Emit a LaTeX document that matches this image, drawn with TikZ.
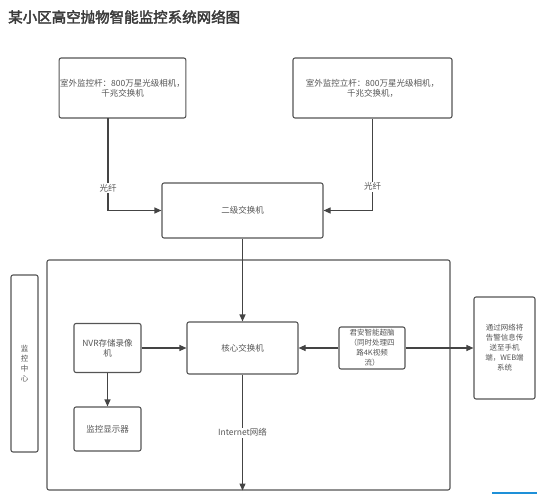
\documentclass[tikz,border=0pt]{standalone}
\usepackage{fontspec}
\setmainfont{Noto Sans CJK SC}
\newfontfamily\titlefont[FakeBold=2.5]{Noto Sans CJK SC}
\usetikzlibrary{arrows.meta}
\definecolor{boxline}{HTML}{555555}
\definecolor{wire}{HTML}{444444}
\definecolor{txt}{HTML}{555555}
\definecolor{ttl}{HTML}{3A3A3A}
\definecolor{barblue}{HTML}{1E90D8}
\tikzset{
  box/.style={draw=boxline, line width=1.1pt, rounded corners=2pt, inner sep=1pt,
    text=txt, align=center, font=\fontsize{8.5}{10}\selectfont},
  wirearrow/.style={draw=wire, line width=1.1pt, -{Triangle[length=7pt,width=6pt]}},
  lbl/.style={fill=white, text=txt, inner sep=1pt, font=\fontsize{8.5}{10}\selectfont},
}
\begin{document}
\begin{tikzpicture}[x=1pt,y=-1pt]
\useasboundingbox (0,0) rectangle (543,494);
\node[anchor=west, text=ttl, inner sep=0pt, font=\fontsize{14.5}{16}\titlefont] (title) at (8,17) {某小区高空抛物智能监控系统网络图};

\node[box, minimum width=121pt, minimum height=60pt] (tl) at (122.5,88) {室外监控杆：800万星光级相机，\\千兆交换机};
\node[box, minimum width=159pt, minimum height=60pt] (tr) at (372.5,88) {室外监控立杆：800万星光级相机，\\千兆交换机，};
\node[box, minimum width=161pt, minimum height=55pt] (sw) at (242.5,210.5) {二级交换机};

\node[box, minimum width=403pt, minimum height=230pt] (big) at (248.5,375) {};
\node[box, minimum width=27pt, minimum height=177pt, font=\fontsize{7.5}{10}\selectfont] (ctr) at (24.5,363.5) {监\\控\\中\\心};

\node[box, minimum width=111pt, minimum height=52pt] (core) at (242.5,348) {核心交换机};
\node[box, minimum width=66pt, minimum height=42pt, font=\fontsize{7.5}{10}\selectfont] (ja) at (372,348) {君安智能超脑\\（同时处理四\\路4K视频\\流）};
\node[box, minimum width=67pt, minimum height=49pt] (nvr) at (107.5,348) {NVR存储录像\\机};
\node[box, minimum width=67pt, minimum height=44pt] (mon) at (107.5,429) {监控显示器};
\node[box, minimum width=61pt, minimum height=102pt, font=\fontsize{7.5}{10}\selectfont] (rt) at (504.5,348) {通过网络将\\告警信息传\\送至手机\\端，WEB端\\系统};

\coordinate (tlout) at (108,118);
\draw[wirearrow] (tlout) |- node[lbl, pos=0.38] {光纤} (sw.west);
\draw[wirearrow] (tr.south) |- node[lbl, pos=0.37] {光纤} (sw.east);
\draw[wirearrow] (sw.south) -- (core.north);
\draw[wirearrow] (nvr.east) -- (core.west);
\draw[wirearrow] (nvr.south) -- (mon.north);
\draw[wirearrow] (ja.west) -- (core.east);
\draw[wirearrow] (ja.east) -- (rt.west);
\draw[wirearrow] (core.south) -- node[lbl, pos=0.5] {Internet网络} (core.south |- big.south);

\fill[barblue] (492,492) rectangle (537,494);
\end{tikzpicture}
\end{document}
